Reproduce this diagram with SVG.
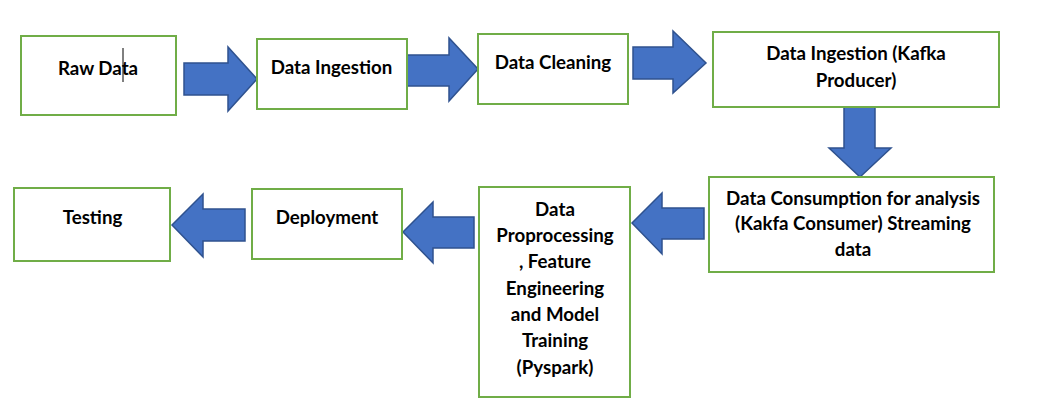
<svg xmlns="http://www.w3.org/2000/svg" width="1057" height="413" viewBox="0 0 1057 413">
<defs>
<style>
.box{fill:#ffffff;stroke:#70AD47;stroke-width:2}
.arr{fill:#4472C4;stroke:#2F528F;stroke-width:1.5;stroke-linejoin:miter}
.t{font-family:"Lato","Open Sans","Liberation Sans",sans-serif;font-weight:bold;font-size:18.7px;fill:#000000;text-anchor:middle}
</style>
</defs>
<rect width="1057" height="413" fill="#ffffff"/>
<g id="connectors">
<polygon class="arr" points="184,63 228,63 228,47 257,79 228,111 228,95 184,95"/>
<polygon class="arr" points="407,55 449,55 449,38 478,69 449,101 449,86 407,86"/>
<polygon class="arr" points="633,47 673,47 673,31 706,63 673,93 673,79 633,79"/>
<polygon class="arr" points="844,107 875,107 875,148 891,148 860,177 829,148 844,148"/>
<polygon class="arr" points="704,208 662,208 662,193 632,223 662,254 662,239 704,239"/>
<polygon class="arr" points="474,217 433,217 433,202 403,232 433,263 433,248 474,248"/>
<polygon class="arr" points="245,209 203,209 203,194 172,225 203,257 203,241 245,241"/>
</g>
<g id="raw-data">
<rect class="box" x="21" y="36" width="155" height="79"/>
<text class="t" x="98" y="75">Raw Data</text>
<line x1="123" y1="48" x2="123" y2="82" stroke="#000000" stroke-width="1"/>
</g>
<g id="data-ingestion">
<rect class="box" x="257" y="39" width="150" height="70"/>
<text class="t" x="331.5" y="74">Data Ingestion</text>
</g>
<g id="data-cleaning">
<rect class="box" x="478" y="34" width="150" height="70"/>
<text class="t" x="553" y="69">Data Cleaning</text>
</g>
<g id="kafka-producer">
<rect class="box" x="713" y="32" width="286" height="75"/>
<text class="t" x="856" y="60">Data Ingestion (Kafka</text>
<text class="t" x="856" y="87">Producer)</text>
</g>
<g id="kafka-consumer">
<rect class="box" x="709" y="177" width="285" height="95"/>
<text class="t" x="853" y="205">Data Consumption for analysis</text>
<text class="t" x="853" y="230">(Kakfa Consumer) Streaming</text>
<text class="t" x="853" y="256">data</text>
</g>
<g id="preprocessing">
<rect class="box" x="479" y="187" width="151" height="210"/>
<text class="t" x="555" y="216">Data</text>
<text class="t" x="555" y="242">Proprocessing</text>
<text class="t" x="555" y="268">, Feature</text>
<text class="t" x="555" y="295">Engineering</text>
<text class="t" x="555" y="321">and Model</text>
<text class="t" x="555" y="347">Training</text>
<text class="t" x="555" y="374">(Pyspark)</text>
</g>
<g id="deployment">
<rect class="box" x="252" y="189" width="150" height="70"/>
<text class="t" x="327" y="224">Deployment</text>
</g>
<g id="testing">
<rect class="box" x="14" y="188" width="156" height="73"/>
<text class="t" x="92.5" y="224">Testing</text>
</g>
</svg>
